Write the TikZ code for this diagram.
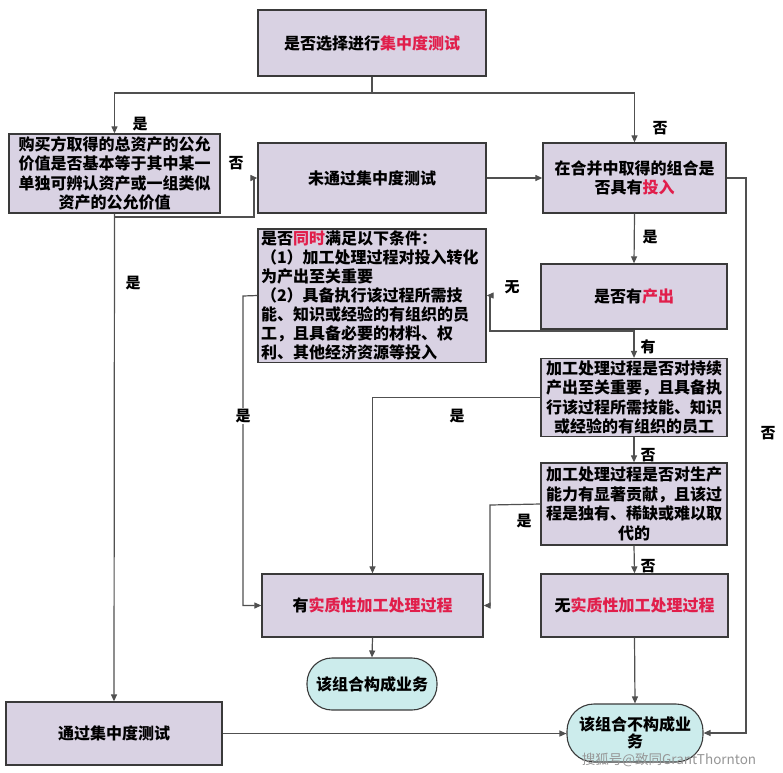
\documentclass[tikz,border=0pt]{standalone}
\usepackage{fontspec}
\setmainfont{Noto Sans CJK SC}
\usetikzlibrary{arrows.meta,calc}
\definecolor{boxfill}{RGB}{217,210,227}
\definecolor{boxline}{RGB}{58,58,58}
\definecolor{termfill}{RGB}{204,236,236}
\definecolor{lnc}{RGB}{80,80,80}
\definecolor{hl}{RGB}{225,30,75}
\definecolor{wmc}{RGB}{150,150,150}
\begin{document}
\begin{tikzpicture}[x=1pt,y=-1pt,
  box/.style={draw=boxline, fill=boxfill, line width=1.3pt, inner sep=2pt, align=center,
    font=\bfseries\fontsize{16}{19.5}\selectfont},
  term/.style={draw=boxline, fill=termfill, line width=1.1pt, inner sep=2pt, align=center,
    font=\bfseries\fontsize{16}{19.5}\selectfont},
  conn/.style={draw=lnc, line width=1.2pt},
  arr/.style={conn, -{Triangle[length=7pt,width=6pt]}},
  lab/.style={font=\bfseries\fontsize{15}{18}\selectfont, inner sep=1pt}]
\useasboundingbox (0,0) rectangle (783,772);

% boxes
\node[box, minimum width=228pt, minimum height=66pt] (top) at (372,43) {是否选择进行\textcolor{hl}{集中度测试}};
\node[box, minimum width=211pt, minimum height=79pt] (q1) at (114.5,173.5)
  {购买方取得的总资产的公允\\价值是否基本等于其中某一\\单独可辨认资产或一组类似\\资产的公允价值};
\node[box, minimum width=228pt, minimum height=70pt] (notpass) at (372,178) {未通过集中度测试};
\node[box, minimum width=183pt, minimum height=70pt] (input) at (634.5,178) {在合并中取得的组合是\\否具有\textcolor{hl}{投入}};
\node[box, minimum width=228pt, minimum height=133pt, text width=222pt, align=left,
  font=\bfseries\fontsize{16}{19}\selectfont] (cond) at (372,295.5)
  {是否\textcolor{hl}{同时}满足以下条件：\\（1）加工处理过程对投入转化\\为产出至关重要\\（2）具备执行该过程所需技\\能、知识或经验的有组织的员\\工，且具备必要的材料、权\\利、其他经济资源等投入};
\node[box, minimum width=186pt, minimum height=65pt] (output) at (634,296.5) {是否有\textcolor{hl}{产出}};
\node[box, minimum width=186pt, minimum height=77pt] (staff) at (634,397.5)
  {加工处理过程是否对持续\\产出至关重要，且具备执\\行该过程所需技能、知识\\或经验的有组织的员工};
\node[box, minimum width=186pt, minimum height=82pt] (contrib) at (634,504)
  {加工处理过程是否对生产\\能力有显著贡献，且该过\\程是独有、稀缺或难以取\\代的};
\node[box, minimum width=221pt, minimum height=63pt] (has) at (372.5,605.5) {有\textcolor{hl}{实质性加工处理过程}};
\node[box, minimum width=187pt, minimum height=63pt] (nohas) at (634.5,605.5) {无\textcolor{hl}{实质性加工处理过程}};
\node[term, minimum width=130pt, minimum height=52pt, rounded corners=25pt] (biz) at (372,684) {该组合构成业务};
\node[term, minimum width=136pt, minimum height=58pt, rounded corners=27pt,
  font=\bfseries\fontsize{16}{17.5}\selectfont] (nobiz) at (635,733) {该组合不构成业\\务};
\node[box, minimum width=216pt, minimum height=63pt] (pass) at (114,733.5) {通过集中度测试};

% helper coordinates
\coordinate (split) at (372,93);
\coordinate (n1) at (254,217);
\coordinate (w1) at (490,331);
\coordinate (c1) at (490,505);
\coordinate (l1) at (243,296);
\coordinate (r1) at (746,178);

% connectors
\draw[conn] (top.south) -- (split);
\draw[arr] (split) -| (q1.north);
\draw[arr] (split) -| (input.north);
\draw[arr] (q1.south) |- (n1) |- (notpass.west);
\draw[arr] (q1.south) -- (pass.north);
\draw[arr] (pass.east) -- (pass.east -| nobiz.west);
\draw[arr] (notpass.east) -- (input.west);
\draw[arr] (input.east) -- (r1) |- (nobiz.east);
\draw[arr] (input.south) -- (output.north);
\draw[arr] (output.south) -- (staff.north);
\draw[arr] (output.south |- w1) -- (w1) |- (cond.east);
\draw[arr] (staff.south) -- (contrib.north);
\draw[arr] (contrib.south) -- (nohas.north);
\draw[arr] (staff.west) -| (has.north);
\draw[arr] (contrib.west) -- (c1) |- (has.east);
\draw[arr] (cond.west) -- (l1) |- (has.west);
\draw[arr] (has.south) -- (biz.north);
\draw[arr] (nohas.south) -- (nobiz.north);

% labels
\node[lab] (y1) at (140,124) {是};
\node[lab] (n2) at (660,128) {否};
\node[lab] (n3) at (236,163) {否};
\node[lab] (y2) at (133,283) {是};
\node[lab] (y3) at (650,237) {是};
\node[lab] (wu) at (512,287) {无};
\node[lab] (you) at (648,347) {有};
\node[lab, fill=white] (y4) at (243,416) {是};
\node[lab] (y5) at (457,416) {是};
\node[lab] (n4) at (768,433) {否};
\node[lab] (n5) at (648,455) {否};
\node[lab] (y6) at (524,521) {是};
\node[lab] (n6) at (648,566) {否};

% watermark
\node[font=\fontsize{13.5}{15}\selectfont, text=wmc, inner sep=0pt] (wm) at (669,760) {搜狐号@致同GrantThornton};
\end{tikzpicture}
\end{document}
